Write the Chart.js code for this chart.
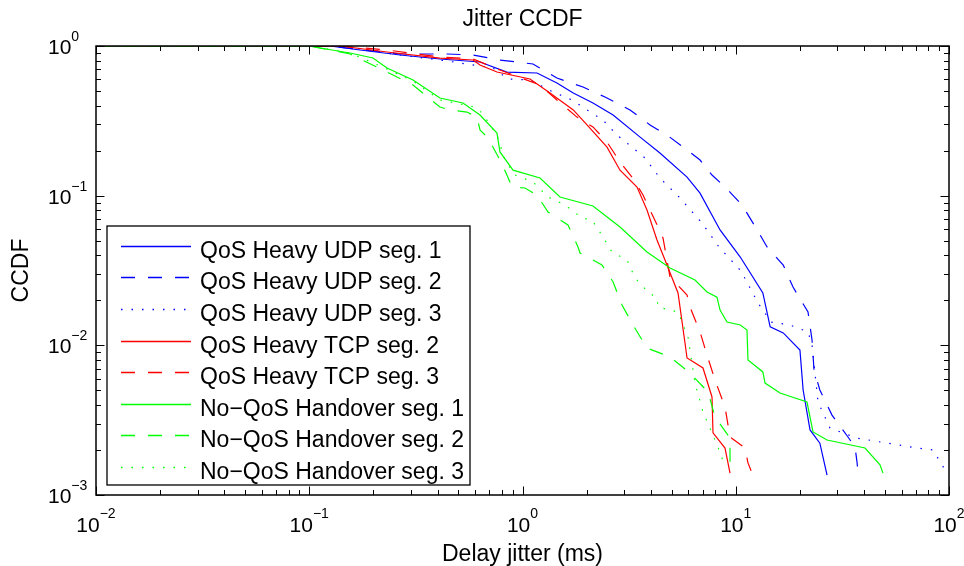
<!DOCTYPE html>
<html lang="en">
<head>
<meta charset="UTF-8">
<title>Jitter CCDF</title>
<script src="https://cdn.jsdelivr.net/npm/chart.js"></script>
<style>
    body { margin: 0; background: #fff; }
    #wrap { width: 964px; height: 566px; }
</style>
</head>
<body>
<div id="wrap"><canvas id="jitterChart" width="964" height="566"></canvas></div>
<script>
// axis range and decade ticks
const xRange = [0.01, 100];
const yRange = [0.001, 1];
const xDecades = [-2, -1, 0, 1, 2];
const yDecades = [-3, -2, -1, 0];

const seriesNames = [
    'QoS Heavy UDP seg. 1', 'QoS Heavy UDP seg. 2', 'QoS Heavy UDP seg. 3',
    'QoS Heavy TCP seg. 2', 'QoS Heavy TCP seg. 3',
    'No\u2212QoS Handover seg. 1', 'No\u2212QoS Handover seg. 2', 'No\u2212QoS Handover seg. 3'
];

// jitter (ms) / CCDF pairs
const udp1X = [0.01, 0.125, 0.173, 0.267, 0.41, 0.632, 0.845, 1.17, 1.45, 1.73, 2.14, 2.66, 3.56, 4.41, 5.91, 6.8, 8.44, 10.5, 13.4, 14.5, 16.7, 20.0, 20.7, 22.3, 24.8, 26.8];
const udp1Y = [1, 1, 0.94, 0.871, 0.819, 0.782, 0.67, 0.66, 0.566, 0.485, 0.416, 0.346, 0.246, 0.193, 0.133, 0.104, 0.059, 0.0389, 0.0224, 0.0133, 0.0121, 0.0093, 0.00503, 0.00272, 0.00222, 0.00136];

const udp2X = [0.01, 0.125, 0.267, 0.443, 0.586, 0.784, 1.12, 1.45, 1.922, 2.437, 3.192, 3.962, 4.76, 5.91, 6.8, 7.738, 9.003, 10.7, 12.45, 14.02, 16.7, 18.56, 21.82, 22.79, 23.28, 24.8, 28.27, 33.6, 36.25, 37.04, 37.45];
const udp2Y = [1, 1, 0.884, 0.884, 0.871, 0.806, 0.758, 0.611, 0.532, 0.456, 0.374, 0.297, 0.254, 0.202, 0.173, 0.1374, 0.1125, 0.0866, 0.0608, 0.0454, 0.0344, 0.0245, 0.0167, 0.01085, 0.00684, 0.00503, 0.00342, 0.00244, 0.00209, 0.00166, 0.0014];

const udp3X = [0.01, 0.1394, 0.267, 0.4426, 0.727, 0.855, 1.084, 1.39, 1.707, 2.007, 2.385, 2.774, 3.262, 3.754, 4.41, 5.42, 6.945, 8.345, 10.58, 12.72, 14.64, 17.96, 21.82, 22.79, 24.31, 27.67, 37.04, 70.77, 84.1, 92.7, 97.9];
const udp3Y = [1, 1, 0.871, 0.794, 0.713, 0.602, 0.593, 0.493, 0.436, 0.374, 0.32, 0.254, 0.211, 0.1785, 0.1312, 0.098, 0.0657, 0.0454, 0.0314, 0.0192, 0.0143, 0.01367, 0.01228, 0.01005, 0.00418, 0.0028, 0.0024, 0.00206, 0.002, 0.00159, 0.0014];

const tcp2X = [0.01, 0.1394, 0.2315, 0.41, 0.586, 0.632, 0.759, 1.084, 1.346, 1.73, 2.007, 2.491, 2.866, 3.443, 3.835, 4.273, 4.658, 5.362, 5.781, 5.91, 7.021, 7.738, 7.822, 8.905, 9.4];
const tcp2Y = [1, 1, 0.912, 0.831, 0.806, 0.747, 0.67, 0.602, 0.485, 0.374, 0.297, 0.211, 0.148, 0.1143, 0.0802, 0.0506, 0.0372, 0.0224, 0.01036, 0.00823, 0.00706, 0.00452, 0.0026, 0.00206, 0.0014];

const tcp3X = [0.01, 0.1394, 0.2315, 0.41, 0.586, 0.784, 1.208, 1.45, 1.801, 2.14, 2.491, 2.866, 3.262, 3.674, 4.32, 4.559, 4.917, 5.91, 6.102, 6.8, 7.332, 7.993, 8.905, 9.4, 11.05, 11.41, 11.92];
const tcp3Y = [1, 1, 0.94, 0.845, 0.819, 0.691, 0.549, 0.436, 0.335, 0.288, 0.228, 0.168, 0.133, 0.101, 0.0618, 0.0522, 0.0286, 0.0217, 0.018, 0.0123, 0.00862, 0.00587, 0.00387, 0.00244, 0.00206, 0.00164, 0.0014];

const noqos1X = [0.01, 0.1008, 0.1123, 0.1553, 0.199, 0.2315, 0.3066, 0.41, 0.526, 0.632, 0.759, 0.784, 0.903, 1.208, 1.499, 2.14, 2.866, 3.835, 4.917, 6.44, 7.332, 8.166, 8.44, 9.1, 10.5, 11.29, 11.41, 13.4, 13.72, 16.13, 21.58, 23.03, 26.8, 40.37, 47.47, 49.03];
const noqos1Y = [1, 1, 0.97, 0.898, 0.831, 0.713, 0.593, 0.449, 0.416, 0.346, 0.262, 0.196, 0.148, 0.1312, 0.098, 0.0853, 0.0618, 0.042, 0.0329, 0.0273, 0.0227, 0.021, 0.0172, 0.0143, 0.01367, 0.01266, 0.00798, 0.00664, 0.0056, 0.0048, 0.00418, 0.00264, 0.00233, 0.00206, 0.00159, 0.0014];

const noqos2X = [0.01, 0.1008, 0.1553, 0.2315, 0.3066, 0.41, 0.457, 0.549, 0.612, 0.632, 0.689, 0.784, 0.845, 0.893, 1.027, 1.17, 1.317, 1.634, 1.821, 1.861, 2.359, 2.66, 2.929, 3.298, 3.835, 4.917, 6.102, 7.412, 7.993, 9.4, 9.4];
const noqos2Y = [1, 1, 0.884, 0.67, 0.549, 0.391, 0.374, 0.362, 0.335, 0.275, 0.243, 0.173, 0.1374, 0.1143, 0.1125, 0.101, 0.0778, 0.0637, 0.0454, 0.0414, 0.0344, 0.0265, 0.0186, 0.01367, 0.0096, 0.00836, 0.00653, 0.00488, 0.00332, 0.0024, 0.00147];

const noqos3X = [0.01, 0.1008, 0.1553, 0.2315, 0.3066, 0.41, 0.4827, 0.599, 0.6457, 0.759, 0.828, 0.922, 1.12, 1.317, 1.582, 1.901, 2.118, 2.385, 2.628, 3.09, 3.37, 3.877, 4.273, 4.32, 5.362, 5.972, 6.44, 7.021, 7.738, 8.62, 8.714];
const noqos3Y = [1, 1, 0.898, 0.702, 0.584, 0.436, 0.416, 0.391, 0.357, 0.254, 0.173, 0.1374, 0.1234, 0.098, 0.0866, 0.0709, 0.0688, 0.053, 0.042, 0.0372, 0.0282, 0.0227, 0.0207, 0.018, 0.0167, 0.01136, 0.0056, 0.00359, 0.0026, 0.0018, 0.00154];

const FONT = '"Liberation Sans", Arial, Helvetica, sans-serif';
const BLUE = '#0000ff', RED = '#ff0000', GREEN = '#00ff00';
const SOLID = [], DASHED = [14, 13], DOTTED = [1.5, 9];

const lineColors = [BLUE, BLUE, BLUE, RED, RED, GREEN, GREEN, GREEN];
const lineDashes = [SOLID, DASHED, DOTTED, SOLID, DASHED, SOLID, DASHED, DOTTED];
const seriesXs = [udp1X, udp2X, udp3X, tcp2X, tcp3X, noqos1X, noqos2X, noqos3X];
const seriesYs = [udp1Y, udp2Y, udp3Y, tcp2Y, tcp3Y, noqos1Y, noqos2Y, noqos3Y];

function pairs(xs, ys) {
    return xs.map((x, i) => ({ x: x, y: ys[i] }));
}

const datasets = seriesXs.map((xs, i) => ({
    label: seriesNames[i],
    data: pairs(xs, seriesYs[i]),
    borderColor: lineColors[i],
    backgroundColor: lineColors[i],
    borderDash: lineDashes[i].slice(),
    borderWidth: 1.2,
    borderCapStyle: 'butt',
    pointRadius: 0,
    tension: 0,
    fill: false,
    order: seriesXs.length - i  // later series drawn on top, like matlab
}));

function expText(e) {
    return e < 0 ? '\u2212' + Math.abs(e) : String(e);
}

// matlab style box, inward ticks, 10^n labels, titles and legend
const matlabFrame = {
    id: 'matlabFrame',
    afterDraw(chart) {
        const ctx = chart.ctx;
        const a = chart.chartArea;
        const xs = chart.scales.x, ys = chart.scales.y;
        ctx.save();

        // ticks
        ctx.strokeStyle = '#000';
        ctx.lineWidth = 1;
        ctx.setLineDash([]);
        ctx.beginPath();
        const xLast = xDecades[xDecades.length - 1];
        for (let e = xDecades[0]; e <= xLast; e++) {
            for (let m = 1; m <= 9; m++) {
                if (e === xLast && m > 1) break;
                const px = Math.round(xs.getPixelForValue(m * Math.pow(10, e))) + 0.5;
                const len = m === 1 ? 8.5 : 5;
                ctx.moveTo(px, a.bottom); ctx.lineTo(px, a.bottom - len);
                ctx.moveTo(px, a.top); ctx.lineTo(px, a.top + len);
            }
        }
        const yLast = yDecades[yDecades.length - 1];
        for (let e = yDecades[0]; e <= yLast; e++) {
            for (let m = 1; m <= 9; m++) {
                if (e === yLast && m > 1) break;
                const py = Math.round(ys.getPixelForValue(m * Math.pow(10, e))) + 0.5;
                const len = m === 1 ? 8.5 : 5;
                ctx.moveTo(a.left, py); ctx.lineTo(a.left + len, py);
                ctx.moveTo(a.right, py); ctx.lineTo(a.right - len, py);
            }
        }
        ctx.stroke();

        // box
        ctx.lineWidth = 1.5;
        ctx.strokeRect(a.left, a.top, a.right - a.left, a.bottom - a.top);

        // tick labels
        ctx.fillStyle = '#000';
        ctx.textAlign = 'left';
        ctx.textBaseline = 'alphabetic';
        xDecades.forEach(e => {
            const px = xs.getPixelForValue(Math.pow(10, e));
            ctx.font = '21px ' + FONT;
            const w1 = ctx.measureText('10').width;
            ctx.font = '14px ' + FONT;
            const sup = expText(e);
            const w2 = ctx.measureText(sup).width;
            const x0 = px - (w1 + w2) / 2;
            ctx.font = '21px ' + FONT;
            ctx.fillText('10', x0, a.bottom + 37);
            ctx.font = '14px ' + FONT;
            ctx.fillText(sup, x0 + w1, a.bottom + 23);
        });
        yDecades.forEach(e => {
            const py = ys.getPixelForValue(Math.pow(10, e));
            ctx.font = '21px ' + FONT;
            const w1 = ctx.measureText('10').width;
            ctx.fillText('10', 48, py + 8);
            ctx.font = '14px ' + FONT;
            ctx.fillText(expText(e), 48 + w1, py - 5);
        });

        // titles
        const cx = (a.left + a.right) / 2;
        ctx.font = '23px ' + FONT;
        ctx.textAlign = 'center';
        ctx.fillText('Jitter CCDF', cx, 26);
        ctx.fillText('Delay jitter (ms)', cx, 561);
        ctx.save();
        ctx.translate(28, (a.top + a.bottom) / 2);
        ctx.rotate(-Math.PI / 2);
        ctx.fillText('CCDF', 0, 0);
        ctx.restore();

        // legend
        const box = { left: 107, top: 226, right: 470, bottom: 485 };
        ctx.fillStyle = '#fff';
        ctx.fillRect(box.left, box.top, box.right - box.left, box.bottom - box.top);
        ctx.strokeStyle = '#000';
        ctx.lineWidth = 1.3;
        ctx.strokeRect(box.left, box.top, box.right - box.left, box.bottom - box.top);
        ctx.textAlign = 'left';
        ctx.font = '23px ' + FONT;
        for (let i = 0; i < seriesNames.length; i++) {
            const ly = Math.round(245.7 + i * 31.6) + 0.5;
            ctx.beginPath();
            ctx.strokeStyle = lineColors[i];
            ctx.lineWidth = 1.3;
            ctx.setLineDash(lineDashes[i]);
            ctx.moveTo(121, ly);
            ctx.lineTo(191, ly);
            ctx.stroke();
            ctx.setLineDash([]);
            ctx.fillStyle = '#000';
            ctx.fillText(seriesNames[i], 200, ly + 11.5);
        }

        ctx.restore();
    }
};

new Chart(document.getElementById('jitterChart').getContext('2d'), {
    type: 'line',
    data: { datasets: datasets },
    options: {
        responsive: false,
        animation: false,
        devicePixelRatio: 1,
        layout: { padding: { left: 96, right: 15, top: 46, bottom: 71 } },
        plugins: {
            legend: { display: false },
            title: { display: false },
            tooltip: { enabled: false }
        },
        scales: {
            x: { type: 'logarithmic', min: xRange[0], max: xRange[1], display: false },
            y: { type: 'logarithmic', min: yRange[0], max: yRange[1], display: false }
        }
    },
    plugins: [matlabFrame]
});
</script>
</body>
</html>
